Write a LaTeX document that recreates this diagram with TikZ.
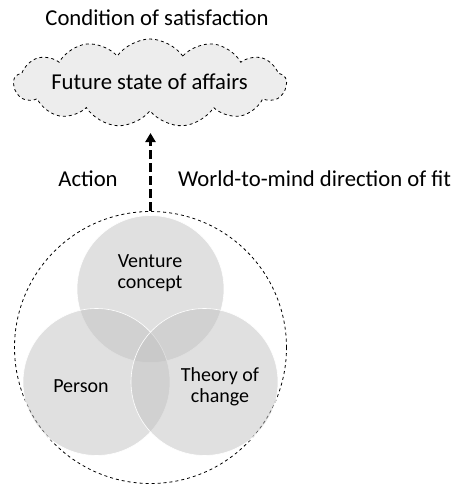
\documentclass[tikz,border=0pt]{standalone}
\usepackage{fontspec}
\setmainfont{Carlito}
\usepackage{tikz}
\usetikzlibrary{shapes.symbols,arrows.meta}

\begin{document}
\begin{tikzpicture}[x=1pt,y=-1pt]
	\tikzset{
		lbl/.style={font=\fontsize{22.7}{24}\selectfont, inner sep=0pt},
		inlbl/.style={font=\fontsize{20}{21.5}\selectfont, align=center, inner sep=0pt},
		blob/.style={circle, minimum size=147pt, inner sep=0pt,
			fill=black!24, fill opacity=0.5, draw=white, line width=0.6pt},
	}
	\useasboundingbox (0,0) rectangle (458,485);
	% cloud with the future state
	\node[cloud, cloud puffs=13, cloud puff arc=110, aspect=3,
		minimum width=273pt, minimum height=88pt, inner sep=0pt,
		draw, dashed, line width=0.8pt, fill=black!7] (cloud) at (150,83) {};
	\node[lbl] (future) at (149.5,82) {Future state of affairs};
	\node[lbl] (cond) at (157,18) {Condition of satisfaction};
	% outer circle
	\node[circle, minimum size=272pt, inner sep=0pt, draw, dashed, line width=0.8pt]
		(world) at (150.5,347.5) {};
	% three overlapping circles
	\node[blob] (venture) at (150.5,289) {};
	\node[blob] (person) at (96.5,382) {};
	\node[blob] (theory) at (204.5,382) {};
	\node[inlbl] (vlbl) at (150,273) {Venture\\concept};
	\node[inlbl] (plbl) at (81,386) {Person};
	\node[inlbl] (tlbl) at (220,387) {Theory of\\change};
	% action arrow
	\coordinate (tip) at (150.5,133);
	\draw[line width=3pt, dash pattern=on 9pt off 4pt, -{Triangle[length=9pt,width=10pt]}]
		(world.north) -- (tip);
	\node[lbl] (action) at (88,179) {Action};
	\node[lbl, anchor=west] (fit) at (178,179) {World-to-mind direction of fit};
\end{tikzpicture}
\end{document}
